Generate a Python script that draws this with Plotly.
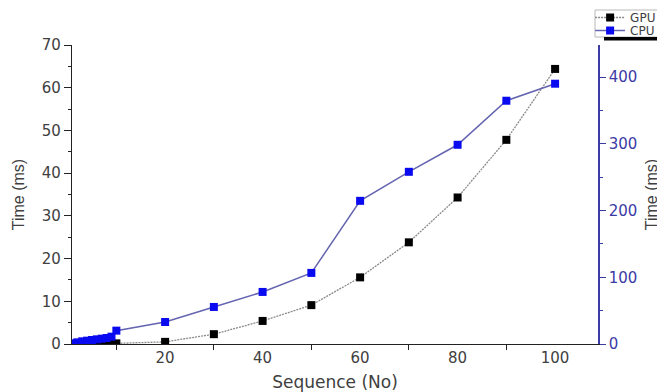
import plotly.graph_objects as go

# ---- data ----
sequence = [1, 2, 3, 4, 5, 6, 7, 8, 9, 10, 20, 30, 40, 50, 60, 70, 80, 90, 100]
gpu_time = [0.02, 0.03, 0.04, 0.05, 0.06, 0.08, 0.09, 0.10, 0.12, 0.15,
            0.5, 2.3, 5.4, 9.1, 15.6, 23.8, 34.3, 47.8, 64.4]
cpu_time = [1.0, 2.5, 4.0, 5.0, 6.0, 7.0, 8.0, 9.0, 11.0, 20.0,
            33.0, 55.5, 78.0, 106.5, 214.5, 258.0, 298.5, 364.5, 390.0]
series_names = ["GPU", "CPU"]
x_title = "Sequence (No)"
y_title = "Time (ms)"

FONT = "DejaVu Sans"
BLUE_AX = "#3b3ba6"
TXT = "#404040"

# page body has an 8px margin, so the figure is sized to the remaining space
W, H = 665 - 8, 392 - 8

fig = go.Figure()
fig.add_trace(go.Scatter(
    x=sequence, y=gpu_time, name=series_names[0], mode="lines+markers",
    line=dict(color="#8a8a8a", width=1.3, dash="2px,1px"),
    marker=dict(symbol="square", size=8, color="#000000"),
    xaxis="x", yaxis="y", legend="legend"))
fig.add_trace(go.Scatter(
    x=sequence, y=cpu_time, name=series_names[1], mode="lines+markers",
    line=dict(color="#6464b0", width=1.5),
    marker=dict(symbol="square", size=8, color="#0a0af0"),
    xaxis="x", yaxis="y2", legend="legend2"))

leg_common = dict(xanchor="left", yanchor="middle", bgcolor="rgba(0,0,0,0)",
                  borderwidth=0, font=dict(family=FONT, size=12, color=TXT),
                  itemwidth=30)

fig.update_layout(
    width=W, height=H,
    margin=dict(l=64, r=67, t=37, b=48, autoexpand=False),
    plot_bgcolor="white", paper_bgcolor="white",
    font=dict(family=FONT, size=15, color=TXT),
    showlegend=True,
    legend=dict(x=0.985, y=(344 - 17.5) / 299, **leg_common),
    legend2=dict(x=0.985, y=(344 - 30.5) / 299, **leg_common),
    shapes=[
        # legend frame
        dict(type="rect", xref="paper", yref="paper",
             x0=(595 - 72) / 526, x1=(680 - 72) / 526,
             y0=(344 - 37) / 299, y1=(344 - 10) / 299,
             line=dict(color="#b8b8b8", width=1), fillcolor="rgba(0,0,0,0)",
             layer="above"),
        # legend shadow
        dict(type="rect", xref="paper", yref="paper",
             x0=(604 - 72) / 526, x1=(680 - 72) / 526,
             y0=(344 - 40.5) / 299, y1=(344 - 37) / 299,
             line=dict(width=0), fillcolor="#000000", layer="above"),
    ],
    xaxis=dict(
        range=[0.9, 108.8], showgrid=False, zeroline=False,
        showline=True, linecolor="#222", linewidth=1.2,
        ticks="", tick0=0, dtick=20,
        minor=dict(ticks="outside", dtick=10, tick0=0, ticklen=5, tickwidth=1.2,
                   tickcolor="#222"),
        tickfont=dict(family=FONT, size=15, color=TXT),
        title=dict(text=x_title, font=dict(family=FONT, size=17, color=TXT), standoff=11),
    ),
    xaxis2=dict(
        range=[0.9, 108.8], overlaying="x", anchor="y", side="top",
        showgrid=False, zeroline=False, showline=True, linecolor=BLUE_AX, linewidth=1.2,
        ticks="inside", tickcolor=BLUE_AX, ticklen=4, tick0=0, dtick=10,
        showticklabels=False,
    ),
    yaxis=dict(
        range=[0, 70], showgrid=False, zeroline=False,
        showline=True, linecolor="#222", linewidth=1.2,
        ticks="outside", tickcolor="#222", ticklen=7, tickwidth=1.2, dtick=10,
        minor=dict(ticks="outside", dtick=5, ticklen=3, tickcolor="#222"),
        tickfont=dict(family=FONT, size=15, color=TXT),
        title=dict(text=y_title, font=dict(family="Liberation Sans", size=16, color=TXT), standoff=13),
    ),
    yaxis2=dict(
        range=[0, 448], overlaying="y", side="right", anchor="x",
        showgrid=False, zeroline=False,
        showline=True, linecolor=BLUE_AX, linewidth=1.5,
        ticks="outside", tickcolor=BLUE_AX, ticklen=6, tickwidth=1.2, dtick=100,
        minor=dict(ticks="outside", dtick=50, ticklen=3, tickcolor=BLUE_AX),
        tickfont=dict(family=FONT, size=15, color=BLUE_AX),
        title=dict(text=y_title, font=dict(family="Liberation Sans", size=16, color=TXT), standoff=9),
    ),
)

fig.write_html("out.html")
